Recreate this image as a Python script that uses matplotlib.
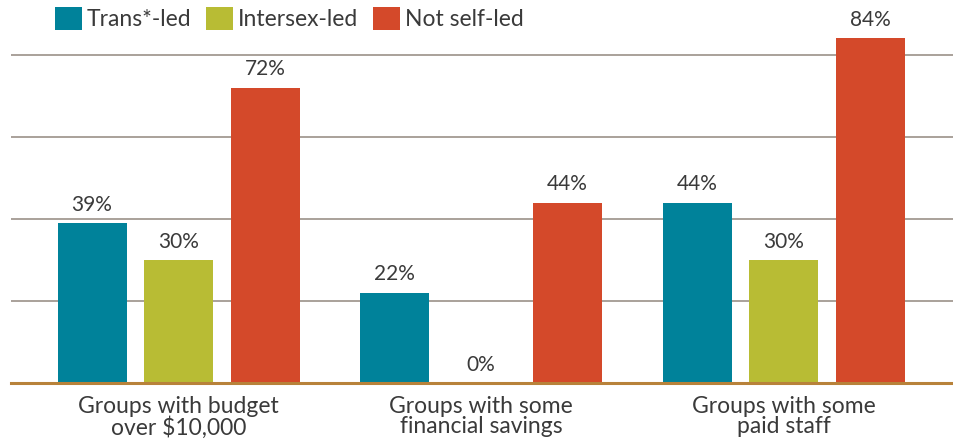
import numpy as np
import matplotlib
matplotlib.use('Agg')
import matplotlib.pyplot as plt

categories = ['Groups with budget\nover $10,000', 'Groups with some\nfinancial savings', 'Groups with some\npaid staff']
series_names = ['Trans*-led', 'Intersex-led', 'Not self-led']
trans_led = [39, 22, 44]
intersex_led = [30, 0, 30]
not_self_led = [72, 44, 84]

colors = ['#00829A', '#B8BC34', '#D4492A']
text_color = '#3a3a3a'

plt.rcParams['font.family'] = ['Lato', 'DejaVu Sans']

fig = plt.figure(figsize=(9.54, 4.43), dpi=100)
ax = fig.add_axes([11 / 954, 60 / 443, 942 / 954, 361 / 443])

x = np.arange(len(categories))
width = 0.228
offset = 0.286
bars = []
for i, (name, vals) in enumerate(zip(series_names, [trans_led, intersex_led, not_self_led])):
    b = ax.bar(x + (i - 1) * offset, vals, width, color=colors[i], label=name, zorder=3)
    ax.bar_label(b, labels=[f'{v}%' for v in vals], padding=6, fontsize=15, color=text_color)
    bars.append(b)

ax.set_xlim(-0.554, 2.56)
ax.set_ylim(0, 88)
ax.set_yticks([20, 40, 60, 80])
ax.yaxis.grid(True, color='#A39A92', linewidth=1.3, zorder=0)
ax.tick_params(axis='y', left=False, labelleft=False)
ax.tick_params(axis='x', bottom=False, pad=6)
ax.set_xticks(x)
ax.set_xticklabels(categories, fontsize=16.5, color=text_color, linespacing=0.95)
for s in ['top', 'right', 'left']:
    ax.spines[s].set_visible(False)
ax.spines['bottom'].set_color('#B8823A')
ax.spines['bottom'].set_linewidth(2.2)
ax.spines['bottom'].set_zorder(4)

leg = fig.legend(handles=bars, labels=series_names, loc='upper left', bbox_to_anchor=(46 / 954, 1.006),
                 ncol=3, frameon=False, fontsize=16.5,
                 handlelength=1.18, handleheight=1.18,
                 handletextpad=0.2, columnspacing=0.65, borderaxespad=0)
for t in leg.get_texts():
    t.set_color(text_color)

fig.savefig('out.png', dpi=100)
